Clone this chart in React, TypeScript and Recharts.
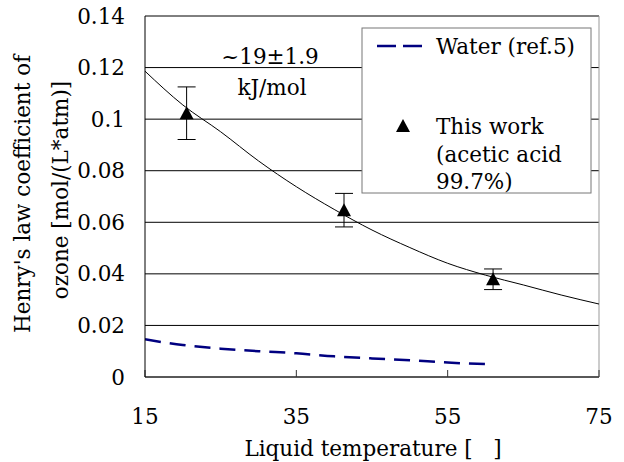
import {
  CartesianGrid,
  ComposedChart,
  ErrorBar,
  Line,
  ReferenceLine,
  Scatter,
  XAxis,
  YAxis,
} from "recharts";

const FONT = "DejaVu Serif";
const FS = 21.5;

// fitted curve (Arrhenius-type)
const fitTemps = [15, 20, 25, 30, 35, 40, 45, 50, 55, 60, 65, 70, 75];
const fitValues = [0.1186, 0.1055, 0.0951, 0.0838, 0.0738, 0.065, 0.057, 0.0502, 0.0441, 0.0395, 0.0357, 0.0318, 0.0283];

// water, ref.5
const waterTemps = [15, 20, 25, 30, 35, 40, 45, 50, 55, 60, 61];
const waterValues = [0.0146, 0.0124, 0.011, 0.01, 0.0092, 0.008, 0.0072, 0.0065, 0.0056, 0.005, 0.0049];

// this work (acetic acid 99.7%)
const workTemps = [20.5, 41.3, 61.0];
const workValues = [0.1023, 0.0647, 0.0379];
const workErrors = [0.0102, 0.0065, 0.004];

const xTicks = [15, 35, 55, 75];
const yTicks = [0, 0.02, 0.04, 0.06, 0.08, 0.1, 0.12, 0.14];

const allTemps = Array.from(new Set([...fitTemps, ...waterTemps])).sort((a, b) => a - b);
const lineData = allTemps.map((t) => {
  const fi = fitTemps.indexOf(t);
  const wi = waterTemps.indexOf(t);
  return {
    t,
    fit: fi >= 0 ? fitValues[fi] : null,
    water: wi >= 0 ? waterValues[wi] : null,
  };
});

const workData = workTemps.map((t, i) => ({ t, h: workValues[i], err: workErrors[i] }));

function Triangle(props: { cx?: number; cy?: number }) {
  const { cx = 0, cy = 0 } = props;
  return <path d={`M${cx},${cy - 7} L${cx + 7},${cy + 6} L${cx - 7},${cy + 6} Z`} fill="#000" />;
}

function fmtY(v: number) {
  return String(Number(v.toFixed(2)));
}

export default function App() {
  return (
    <div style={{ position: "absolute", left: 0, top: 0, width: 624, height: 462, background: "#fff" }}>
      <ComposedChart
        width={624}
        height={462}
        data={lineData}
        margin={{ top: 16, right: 25, bottom: 0, left: 0 }}
      >
        <CartesianGrid vertical={false} stroke="#000" strokeWidth={1} />
        <ReferenceLine x={75} stroke="#999" strokeWidth={1} />
        <XAxis
          dataKey="t"
          type="number"
          domain={[15, 75]}
          ticks={xTicks}
          allowDataOverflow
          height={85}
          stroke="#333"
          tickSize={-7}
          tickMargin={39}
          tick={{ fill: "#000", fontSize: FS, fontFamily: FONT }}
        />
        <YAxis
          type="number"
          domain={[0, 0.14]}
          ticks={yTicks}
          width={145}
          stroke="#000"
          tickLine={false}
          tickSize={0}
          tickMargin={20}
          tickFormatter={fmtY}
          tick={{ fill: "#000", fontSize: FS, fontFamily: FONT }}
        />
        <Line
          dataKey="fit"
          type="monotone"
          stroke="#000"
          strokeWidth={1}
          dot={false}
          isAnimationActive={false}
          connectNulls
        />
        <Line
          dataKey="water"
          type="monotone"
          stroke="#000080"
          strokeWidth={2.5}
          strokeDasharray="16 9"
          dot={false}
          isAnimationActive={false}
          connectNulls
        />
        <Scatter data={workData} dataKey="h" shape={<Triangle />} isAnimationActive={false}>
          <ErrorBar dataKey="err" direction="y" width={9} stroke="#000" strokeWidth={1} />
        </Scatter>
        <text x={270} y={64} textAnchor="middle" fontSize={FS} fontFamily={FONT}>
          ~19±1.9
        </text>
        <text x={272} y={95} textAnchor="middle" fontSize={FS} fontFamily={FONT}>
          kJ/mol
        </text>
        <text x={373} y={456} textAnchor="middle" fontSize={FS} fontFamily={FONT}>
          {"Liquid temperature [\u00a0\u00a0\u00a0]"}
        </text>
        <text
          transform="translate(30,194) rotate(-90)"
          textAnchor="middle"
          fontSize={FS}
          fontFamily={FONT}
        >
          Henry's law coefficient of
        </text>
        <text
          transform="translate(68,190) rotate(-90)"
          textAnchor="middle"
          fontSize={FS}
          fontFamily={FONT}
        >
          ozone [mol/(L*atm)]
        </text>
        <g>
          <rect x={362} y={28} width={229} height={165} fill="#fff" stroke="#777" strokeWidth={1} />
          <line x1={377} y1={46} x2={423} y2={46} stroke="#000080" strokeWidth={2.5} strokeDasharray="19 7" />
          <text x={436} y={54} fontSize={FS} fontFamily={FONT}>
            Water (ref.5)
          </text>
          <Triangle cx={403} cy={126} />
          <text x={436} y={134} fontSize={FS} fontFamily={FONT}>
            This work
          </text>
          <text x={436} y={162} fontSize={FS} fontFamily={FONT}>
            (acetic acid
          </text>
          <text x={436} y={189} fontSize={FS} fontFamily={FONT}>
            99.7%)
          </text>
        </g>
      </ComposedChart>
    </div>
  );
}
